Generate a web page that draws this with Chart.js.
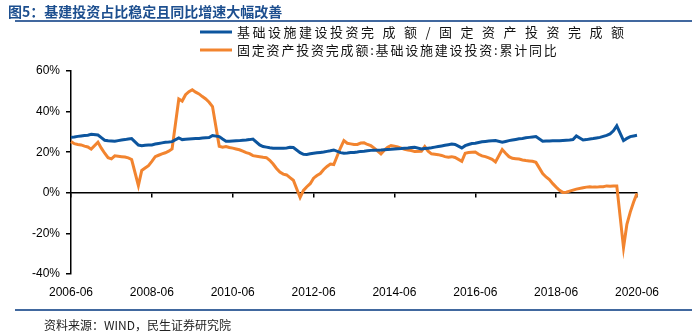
<!DOCTYPE html>
<html>
<head>
<meta charset="utf-8">
<script src="https://cdn.jsdelivr.net/npm/chart.js@4.4.1/dist/chart.umd.min.js"></script>
<style>
  html, body { margin: 0; padding: 0; background: #fff; }
  #wrap { position: relative; width: 692px; height: 333px; overflow: hidden; }
  #chart { position: absolute; left: 0; top: 0; }
  .title {
    position: absolute; left: 8px; top: 1px;
    font: bold 14px "Noto Sans CJK SC", sans-serif; color: #1d4f8f; white-space: nowrap;
  }
  .rule { position: absolute; left: 15px; right: 0; height: 2px; background: #41689f; }
  .source {
    position: absolute; left: 44px; top: 316px;
    font: 12px "Noto Sans CJK SC", sans-serif; color: #222; white-space: nowrap;
  }
</style>
</head>
<body>
<div id="wrap">
  <canvas id="chart" width="692" height="333"></canvas>
  <div class="title">图5：基建投资占比稳定且同比增速大幅改善</div>
  <div class="rule" style="top:20px"></div>
  <div class="rule" style="top:309px"></div>
  <div class="source">资料来源：WIND，民生证券研究院</div>
</div>
<script>
// monthly labels 2006-06 .. 2020-06 (January has no release, left null)
const months = [];
for (let y = 2006; y <= 2020; y++) {
  for (let m = 1; m <= 12; m++) {
    if ((y === 2006 && m < 6) || (y === 2020 && m > 6)) continue;
    months.push(y + '-' + String(m).padStart(2, '0'));
  }
}

const tickLabels = ['2006-06', '2008-06', '2010-06', '2012-06', '2014-06', '2016-06', '2018-06', '2020-06'];
const yTicks = [-40, -20, 0, 20, 40, 60];

// 基础设施建设投资完成额 / 固定资产投资完成额, %
const infraShare = [
  27.3, 27.5, 27.8, 28.0, 28.2, 28.4, 28.8,
  null, 28.5, 27.2, 25.9, 25.6, 25.5, 25.4, 25.7, 26.0, 26.2, 26.5, 26.7,
  null, 23.5, 23.2, 23.4, 23.5, 23.6, 24.0, 24.3, 24.6, 24.9, 25.0, 25.2,
  null, 27.0, 26.2, 26.4, 26.5, 26.6, 26.7, 26.8, 27.0, 27.1, 27.2, 28.2,
  null, 27.7, 26.5, 25.4, 25.4, 25.5, 25.6, 25.7, 25.9, 26.0, 26.2, 26.5,
  null, 23.6, 22.8, 22.5, 22.2, 22.0, 21.9, 21.9, 22.0, 22.1, 22.4, 22.3,
  null, 19.8, 19.0, 18.9, 19.2, 19.5, 19.7, 19.9, 20.1, 20.4, 20.7, 21.1,
  null, 19.8, 19.5, 19.6, 19.8, 19.9, 20.1, 20.4, 20.5, 20.7, 20.9, 21.0,
  null, 21.1, 21.2, 21.3, 21.4, 21.6, 21.7, 21.8, 22.0, 22.1, 22.3, 22.4,
  null, 21.6, 21.8, 22.0, 22.2, 22.5, 22.8, 23.1, 23.4, 23.7, 24.0, 23.8,
  null, 22.1, 23.2, 23.8, 24.3, 24.4, 24.8, 25.1, 25.3, 25.5, 25.6, 25.7,
  null, 24.9, 25.3, 25.7, 26.0, 26.3, 26.6, 26.8, 27.1, 27.3, 27.5, 27.7,
  null, 25.4, 25.5, 25.5, 25.6, 25.7, 25.7, 25.8, 25.9, 26.0, 26.2, 28.0,
  null, 26.0, 26.2, 26.5, 26.7, 27.0, 27.3, 27.8, 28.3, 29.0, 30.5, 33.0,
  null, 25.7, 26.8, 27.7, 28.0, 28.3,
];

// 基础设施建设投资 累计同比, %
const infraGrowth = [
  25.2, 24.2, 23.8, 23.6, 23.0, 22.6, 21.5,
  null, 24.9, 22.0, 19.5, 17.3, 16.7, 18.2, 18.0, 17.8, 17.6, 17.2, 16.4,
  null, 3.6, 11.0, 12.2, 13.4, 15.5, 17.8, 18.5, 19.2, 19.7, 20.5, 21.6,
  null, 46.2, 45.2, 48.3, 49.8, 50.8, 49.6, 48.7, 47.4, 46.2, 44.6, 42.5,
  null, 22.9, 22.5, 22.8, 22.3, 22.0, 21.6, 21.2, 20.5, 19.8, 19.3, 18.3,
  null, 17.8, 17.5, 17.3, 16.0, 14.2, 12.0, 10.2, 9.2, 8.8, 7.5, 6.2,
  null, -2.3, 1.2, 3.0, 4.5, 7.2, 8.5, 9.5, 11.5, 13.0, 14.2, 13.9,
  null, 22.2, 25.7, 24.4, 24.1, 23.8, 23.8, 24.5, 24.6, 23.8, 23.2, 22.0,
  null, 19.2, 21.0, 22.4, 23.3, 23.0, 22.6, 22.0, 21.4, 21.1, 20.8, 20.3,
  null, 20.5, 22.8, 20.5, 19.2, 19.0, 18.8, 18.4, 17.8, 17.5, 17.8, 17.4,
  null, 15.5, 19.5, 19.8, 20.0, 20.1, 19.0, 18.2, 17.8, 17.2, 16.5, 15.2,
  null, 21.3, 19.5, 17.8, 17.0, 16.8, 16.6, 16.2, 15.9, 15.7, 15.5, 15.0,
  null, 9.5, 7.8, 6.5, 4.5, 2.8, 1.2, 0.2, 0.3, 0.8, 1.3, 1.8,
  null, 2.5, 2.8, 3.0, 2.8, 2.8, 3.0, 3.0, 3.4, 3.2, 3.4, 3.4,
  null, -27.0, -15.5, -9.5, -4.5, -0.3,
];

const BLUE = '#0c559e';
const ORANGE = '#f2842f';
const tickFont = { family: '"Liberation Sans", Arial, sans-serif', size: 12 };

// two-row legend at the top right, line sample + spaced text
const legendRows = {
  id: 'legendRows',
  afterDraw(chart, args, opts) {
    const ctx = chart.ctx;
    ctx.save();
    ctx.font = '13px "Noto Sans CJK SC", sans-serif';
    ctx.textBaseline = 'middle';
    chart.data.datasets.forEach((ds, i) => {
      const row = opts.rows[i];
      ctx.strokeStyle = ds.borderColor;
      ctx.lineWidth = 3;
      ctx.beginPath();
      ctx.moveTo(opts.x, row.y);
      ctx.lineTo(opts.x + 32, row.y);
      ctx.stroke();
      ctx.fillStyle = '#111';
      let x = opts.x + 37;
      [...ds.label].forEach((ch, k) => {
        ctx.fillText(ch, x, row.y);
        const pitch = k < row.split ? row.pitch[0] : row.pitch[1];
        x += ch.charCodeAt(0) < 128 ? ctx.measureText(ch).width + pitch - 13 : pitch;
      });
    });
    ctx.restore();
  },
};

const isLabelled = (i) => tickLabels.includes(months[i]);

const config = {
  type: 'line',
  data: {
    labels: months,
    datasets: [
      {
        label: '基础设施建设投资完成额/固定资产投资完成额',
        data: infraShare,
        borderColor: BLUE,
        backgroundColor: BLUE,
        borderWidth: 3,
        pointRadius: 0,
        tension: 0,
        spanGaps: true,
      },
      {
        label: '固定资产投资完成额:基础设施建设投资:累计同比',
        data: infraGrowth,
        borderColor: ORANGE,
        backgroundColor: ORANGE,
        borderWidth: 3,
        pointRadius: 0,
        tension: 0,
        spanGaps: true,
      },
    ],
  },
  options: {
    responsive: false,
    animation: false,
    layout: { padding: { top: 71, right: 55, left: 0, bottom: 0 } },
    plugins: {
      legend: { display: false },
      tooltip: { enabled: false },
      legendRows: {
        x: 200,
        rows: [
          { y: 32, split: 8, pitch: [15.5, 21.5] },
          { y: 50, split: 99, pitch: [14.8, 14.8] },
        ],
      },
    },
    scales: {
      x: {
        type: 'category',
        position: { y: 0 },
        offset: false,
        ticks: { display: false },
        grid: {
          drawOnChartArea: false,
          tickLength: 4,
          lineWidth: 1.5,
          tickColor: (ctx) => (isLabelled(ctx.index) ? '#000' : 'transparent'),
        },
        border: { display: true, color: '#000', width: 1.5 },
      },
      x2: {
        type: 'category',
        position: 'bottom',
        offset: false,
        grid: { display: false, drawTicks: false },
        border: { display: false },
        ticks: {
          autoSkip: false,
          maxRotation: 0,
          padding: 11,
          color: '#000',
          font: tickFont,
          callback: (v, i) => (isLabelled(i) ? months[i] : ''),
        },
        afterFit: (scale) => { scale.height = 59; },
      },
      y: {
        min: yTicks[0],
        max: yTicks[yTicks.length - 1],
        afterBuildTicks: (scale) => { scale.ticks = yTicks.map((v) => ({ value: v })); },
        ticks: {
          padding: 6,
          color: '#000',
          font: tickFont,
          callback: (v) => v + '%',
        },
        grid: { drawOnChartArea: false, tickLength: 5, tickColor: '#000', lineWidth: 1.5 },
        border: { display: true, color: '#000', width: 1.5 },
        afterFit: (scale) => { scale.width = 71; },
      },
    },
  },
  plugins: [legendRows],
};

new Chart(document.getElementById('chart').getContext('2d'), config);
</script>
</body>
</html>
